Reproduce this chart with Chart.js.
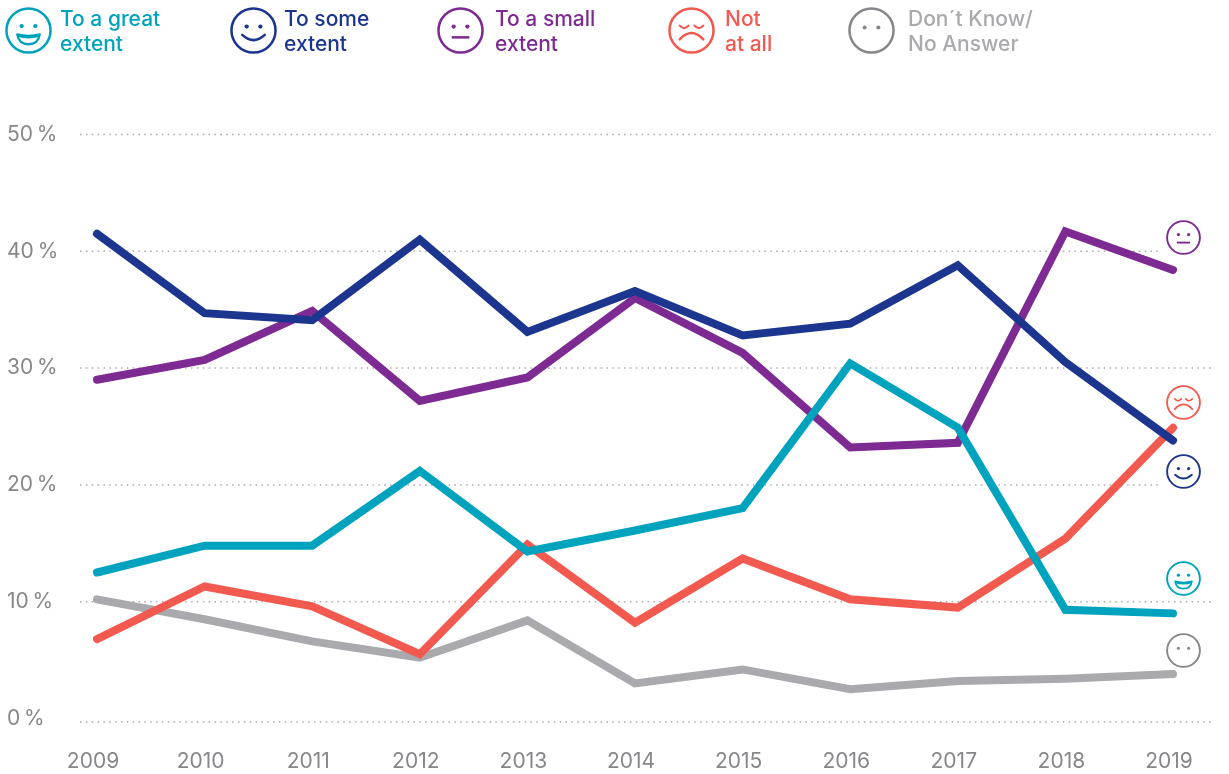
<!DOCTYPE html>
<html>
<head>
<meta charset="utf-8">
<title>Chart</title>
<script src="https://cdn.jsdelivr.net/npm/chart.js@4"></script>
<style>
    html, body { margin: 0; padding: 0; background: #fff; }
    #wrap { position: relative; width: 1229px; height: 774px; overflow: hidden; }
    #lineChart { position: absolute; left: 0; top: 0; }
    .legend-text {
        position: absolute;
        font-family: "Inter", sans-serif;
        font-size: 21px;
        line-height: 24.5px;
        font-weight: 500;
        white-space: pre;
    }
    .face { position: absolute; }
</style>
</head>
<body>
<div id="wrap">
    <canvas id="lineChart" width="1229" height="774"></canvas>
</div>
<script>
const years = ["2009", "2010", "2011", "2012", "2013", "2014", "2015", "2016", "2017", "2018", "2019"];

const greatExtent = [12.5, 14.8, 14.8, 21.2, 14.3, 16.1, 18.0, 30.4, 24.9, 9.3, 9.0];
const someExtent = [41.5, 34.7, 34.1, 41.0, 33.1, 36.6, 32.8, 33.8, 38.8, 30.5, 23.8];
const smallExtent = [29.0, 30.7, 34.9, 27.2, 29.2, 36.0, 31.3, 23.2, 23.6, 41.7, 38.4];
const notAtAll = [6.8, 11.3, 9.6, 5.5, 14.9, 8.2, 13.7, 10.2, 9.5, 15.4, 24.9];
const dontKnow = [10.2, 8.5, 6.6, 5.2, 8.4, 3.0, 4.2, 2.5, 3.2, 3.4, 3.8];

const yTicks = [0, 10, 20, 30, 40, 50];
const yTickLabels = ["0\u2009%", "10\u2009%", "20\u2009%", "30\u2009%", "40\u2009%", "50\u2009%"];

const TEAL = "#00a3bd";
const NAVY = "#1c358e";
const PURPLE = "#7d2a92";
const RED = "#f2594f";
const GREY = "#a9a9ae";
const GREY_FACE = "#87878b";

// the bottom dotted line sits a little under the zero value in the original
const BASELINE_VALUE = -0.3;

const faces = {
    great: '<circle cx="17" cy="19.5" r="2.2" fill="C"/><circle cx="31" cy="19.5" r="2.2" fill="C"/><path d="M12.5 28 Q24 31 35.5 28 Q34 38 24 38 Q14 38 12.5 28 Z" fill="none" stroke="C" stroke-width="2.4" stroke-linejoin="round"/><path d="M13 29 Q24 32.5 35 29" fill="none" stroke="C" stroke-width="3"/>',
    some: '<circle cx="17" cy="20" r="2.2" fill="C"/><circle cx="31" cy="20" r="2.2" fill="C"/><path d="M12.5 28.5 Q24 39 35.5 28.5" fill="none" stroke="C" stroke-width="2.6" stroke-linecap="round"/>',
    small: '<circle cx="17" cy="20" r="2.2" fill="C"/><circle cx="31" cy="20" r="2.2" fill="C"/><path d="M15 31 H33" fill="none" stroke="C" stroke-width="2.6"/>',
    none: '<path d="M12 19 Q16.5 24 21 19 M27 19 Q31.5 24 36 19" fill="none" stroke="C" stroke-width="2.2" stroke-linecap="round"/><path d="M12 33 Q24 20 36 33" fill="none" stroke="C" stroke-width="2.6" stroke-linecap="round"/>',
    blank: '<circle cx="17" cy="21" r="2.1" fill="C"/><circle cx="31" cy="21" r="2.1" fill="C"/>'
};

function addFace(kind, color, cx, cy, size) {
    const wrap = document.getElementById("wrap");
    const holder = document.createElement("div");
    holder.className = "face";
    holder.style.left = (cx - size / 2) + "px";
    holder.style.top = (cy - size / 2) + "px";
    holder.innerHTML = '<svg width="' + size + '" height="' + size + '" viewBox="0 0 48 48">' +
        '<circle cx="24" cy="24" r="22.5" fill="none" stroke="' + color + '" stroke-width="2.6"/>' +
        faces[kind].replace(/C/g, color) + "</svg>";
    wrap.appendChild(holder);
}

function addLegend(text, color, x) {
    const el = document.createElement("div");
    el.className = "legend-text";
    el.style.left = x + "px";
    el.style.top = "7px";
    el.style.color = color;
    el.textContent = text;
    document.getElementById("wrap").appendChild(el);
}

addFace("great", TEAL, 28, 30, 47);
addFace("some", NAVY, 253, 30, 47);
addFace("small", PURPLE, 460, 30, 47);
addFace("none", RED, 691, 30, 47);
addFace("blank", GREY_FACE, 871, 30, 47);

addLegend("To a great\nextent", TEAL, 60);
addLegend("To some\nextent", NAVY, 284);
addLegend("To a small\nextent", PURPLE, 495);
addLegend("Not\nat all", RED, 725);
addLegend("Don´t Know/\nNo Answer", GREY, 908);

addFace("small", PURPLE, 1183, 237, 35);
addFace("none", RED, 1183, 402, 35);
addFace("some", NAVY, 1183, 471.5, 35);
addFace("great", TEAL, 1183, 578, 35);
addFace("blank", GREY_FACE, 1183, 650, 35);

// dotted grid, 20 % and 40 % stop short so they do not run into the faces
const dottedGrid = {
    id: "dottedGrid",
    beforeDatasetsDraw(chart) {
        const ctx = chart.ctx;
        const y = chart.scales.y;
        ctx.save();
        ctx.strokeStyle = "#aaaaad";
        ctx.lineWidth = 1.5;
        ctx.setLineDash([1.5, 4.35]);
        yTicks.forEach(function (value) {
            const yPos = y.getPixelForValue(value === 0 ? BASELINE_VALUE : value);
            const end = value === 20 || value === 40 ? 1158 : 1215;
            ctx.beginPath();
            ctx.moveTo(80, yPos);
            ctx.lineTo(end, yPos);
            ctx.stroke();
        });
        ctx.restore();
    }
};

function makeLine(label, values, color) {
    return {
        label: label,
        data: values,
        borderColor: color,
        borderWidth: 8,
        borderCapStyle: "round",
        borderJoinStyle: "miter",
        pointRadius: 0,
        tension: 0,
        clip: false
    };
}

new Chart(document.getElementById("lineChart").getContext("2d"), {
    type: "line",
    plugins: [dottedGrid],
    data: {
        labels: years,
        datasets: [
            makeLine("To some extent", someExtent, NAVY),
            makeLine("To a great extent", greatExtent, TEAL),
            makeLine("To a small extent", smallExtent, PURPLE),
            makeLine("Not at all", notAtAll, RED),
            makeLine("Don´t Know/No Answer", dontKnow, GREY)
        ]
    },
    options: {
        responsive: false,
        animation: false,
        layout: { padding: { left: 7, right: 56, top: 134.5, bottom: 0 } },
        plugins: { legend: { display: false }, tooltip: { enabled: false } },
        scales: {
            x: {
                offset: false,
                grid: { display: false },
                border: { display: false },
                afterFit: function (axis) { axis.height = 52; },
                ticks: {
                    color: "#87878b",
                    font: { family: "Inter", size: 21 },
                    labelOffset: -4,
                    padding: 19,
                    maxRotation: 0,
                    autoSkip: false
                }
            },
            y: {
                min: BASELINE_VALUE,
                max: 50,
                grid: { display: false },
                border: { display: false },
                afterBuildTicks: function (axis) {
                    axis.ticks = yTicks.map(function (v) { return { value: v }; });
                },
                afterFit: function (axis) { axis.width = 90; },
                ticks: {
                    color: "#87878b",
                    font: { family: "Inter", size: 21 },
                    crossAlign: "far",
                    callback: function (value) { return yTickLabels[yTicks.indexOf(value)]; }
                }
            }
        }
    }
});
</script>
</body>
</html>
